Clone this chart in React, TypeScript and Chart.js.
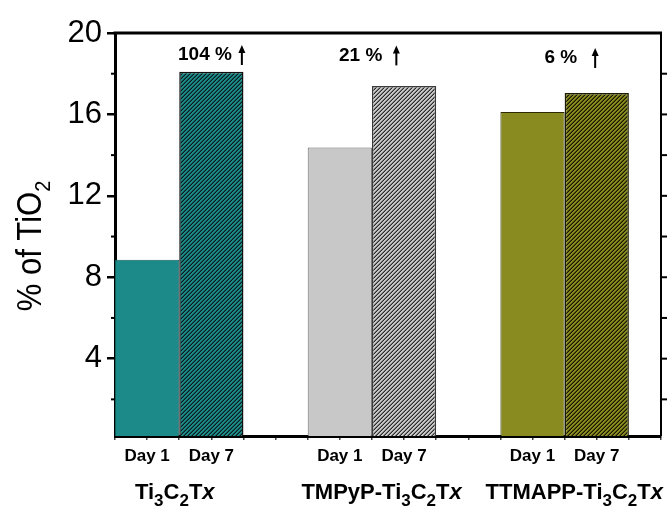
import { useEffect, useRef } from 'react';
import { Chart, registerables } from 'chart.js';

Chart.register(...registerables);

// ---- data ----
const categories = ['Ti3C2Tx', 'TMPyP-Ti3C2Tx', 'TTMAPP-Ti3C2Tx'];
const dayLabels = ['Day 1', 'Day 7'];
const day1Values = [8.86, 14.38, 16.12];
const day7Values = [18.1, 17.39, 17.05];
const increaseLabels = ['104 %', '21 %', '6 %'];
// axis units (x axis runs 0..17, each bar spans 2 units)
const groupCenters = [2, 8, 14];
const groupLabelX = [1.86, 8.3, 14.3];
const increaseLabelX = [2.8, 7.65, 13.88];
const increaseLabelY = [18.92, 18.9, 18.77];
const increaseArrowX = [3.95, 8.76, 14.95];
const yTickValues = [4, 8, 12, 16, 20];
const yMinorTickValues = [2, 6, 10, 14, 18];
const yRightTickValues = [2, 4, 6, 8, 10, 12, 14, 16, 18];

// ---- styles ----
const FONT = '"Liberation Sans", Arial, Helvetica, sans-serif';
const groupColors = ['#1b8a88', '#c8c8c8', '#898a1f'];
const day1Borders = ['#0f5f5d', '#6a6a6a', '#2b2b05'];
const hatchLineColors = ['#0a1a1a', '#2a2a2a', '#161600'];
const day7Borders = ['#111111', '#3a3a3a', '#1a1a00'];

function makeHatch(bg: string, line: string): CanvasPattern | string {
  const c = document.createElement('canvas');
  c.width = 4;
  c.height = 4;
  const g = c.getContext('2d');
  if (!g) return bg;
  g.fillStyle = bg;
  g.fillRect(0, 0, 4, 4);
  g.fillStyle = line;
  for (let x = 0; x < 4; x++) {
    for (let y = 0; y < 4; y++) {
      const k = (x + y) % 4;
      if (k === 3) {
        g.globalAlpha = 1;
        g.fillRect(x, y, 1, 1);
      } else if (k === 2) {
        g.globalAlpha = 0.5;
        g.fillRect(x, y, 1, 1);
      }
    }
  }
  g.globalAlpha = 1;
  return g.createPattern(c, 'repeat') || bg;
}

type Seg = { t: string; sub?: boolean; italic?: boolean };
function parseFormula(s: string): Seg[] {
  const out: Seg[] = [];
  for (let i = 0; i < s.length; i++) {
    const ch = s[i];
    if (/[0-9]/.test(ch)) out.push({ t: ch, sub: true });
    else if (ch === 'x' && i === s.length - 1) out.push({ t: ch, italic: true });
    else {
      const last = out[out.length - 1];
      if (last && !last.sub && !last.italic) last.t += ch;
      else out.push({ t: ch });
    }
  }
  return out;
}

function drawSegs(
  ctx: CanvasRenderingContext2D,
  segs: Seg[],
  cx: number,
  baseline: number,
  mainSize: number,
  subSize: number,
  subDrop: number,
  weight: string
) {
  const fontFor = (s: Seg) =>
    `${s.italic ? 'italic ' : ''}${weight} ${s.sub ? subSize : mainSize}px ${FONT}`;
  let total = 0;
  const widths = segs.map((s) => {
    ctx.font = fontFor(s);
    const w = ctx.measureText(s.t).width;
    total += w;
    return w;
  });
  let x = cx - total / 2;
  ctx.textAlign = 'left';
  ctx.textBaseline = 'alphabetic';
  segs.forEach((s, i) => {
    ctx.font = fontFor(s);
    ctx.fillText(s.t, x, baseline + (s.sub ? subDrop : 0));
    x += widths[i];
  });
}

const decorPlugin = {
  id: 'decor',
  afterDraw(chart: any) {
    const { ctx, chartArea: ca, scales } = chart;
    const xs = scales.x;
    const ys = scales.y;
    ctx.save();
    ctx.strokeStyle = '#000';
    ctx.fillStyle = '#000';

    // top border
    ctx.lineWidth = 3;
    ctx.beginPath();
    ctx.moveTo(ca.left - 1.5, ca.top);
    ctx.lineTo(ca.right + 1, ca.top);
    ctx.stroke();
    // right border
    ctx.lineWidth = 2;
    ctx.beginPath();
    ctx.moveTo(ca.right, ca.top);
    ctx.lineTo(ca.right, ca.bottom);
    ctx.stroke();
    // right ticks
    ctx.lineWidth = 2;
    yRightTickValues.forEach((v) => {
      const py = ys.getPixelForValue(v);
      ctx.beginPath();
      ctx.moveTo(ca.right, py);
      ctx.lineTo(ca.right + 6, py);
      ctx.stroke();
    });
    // left minor ticks
    yMinorTickValues.forEach((v) => {
      const py = ys.getPixelForValue(v);
      ctx.beginPath();
      ctx.moveTo(ca.left - 4, py);
      ctx.lineTo(ca.left, py);
      ctx.stroke();
    });

    // increase annotations
    increaseLabels.forEach((lab, i) => {
      const px = xs.getPixelForValue(increaseLabelX[i]);
      const py = ys.getPixelForValue(increaseLabelY[i]);
      ctx.font = `bold 19px ${FONT}`;
      ctx.textAlign = 'center';
      ctx.textBaseline = 'middle';
      ctx.fillText(lab, px, py);
      const ax = xs.getPixelForValue(increaseArrowX[i]);
      const top = py - 10;
      const bottom = py + 10;
      ctx.lineWidth = 2;
      ctx.beginPath();
      ctx.moveTo(ax, bottom);
      ctx.lineTo(ax, top + 6);
      ctx.stroke();
      ctx.beginPath();
      ctx.moveTo(ax, top);
      ctx.lineTo(ax - 3.5, top + 8);
      ctx.lineTo(ax + 3.5, top + 8);
      ctx.closePath();
      ctx.fill();
    });

    // group labels
    categories.forEach((c, i) => {
      const px = xs.getPixelForValue(groupLabelX[i]);
      drawSegs(ctx, parseFormula(c), px, 499, 22, 17, 7, 'bold');
    });

    // y title
    ctx.save();
    ctx.translate(41, 246);
    ctx.rotate(-Math.PI / 2);
    ctx.scale(1, 1.12);
    drawSegs(
      ctx,
      [{ t: '% of TiO' }, { t: '2', sub: true }],
      0,
      0,
      31,
      20,
      8,
      'normal'
    );
    ctx.restore();

    ctx.restore();
  },
};

export default function App() {
  const ref = useRef<HTMLCanvasElement>(null);
  useEffect(() => {
    if (!ref.current) return;
    const hatches = groupColors.map((c, i) => makeHatch(c, hatchLineColors[i]));
    const dayLabelFor = (v: number) => {
      for (const c of groupCenters) {
        if (Math.abs(v - (c - 1)) < 1e-6) return dayLabels[0];
        if (Math.abs(v - (c + 1)) < 1e-6) return dayLabels[1];
      }
      return '';
    };
    const chart = new Chart(ref.current, {
      type: 'bar',
      data: {
        datasets: [
          {
            label: dayLabels[0],
            data: groupCenters.map((c, i) => ({ x: c - 1, y: day1Values[i] })),
            backgroundColor: groupColors,
            borderColor: day1Borders,
            borderWidth: 1,
            grouped: false,
            barPercentage: 1,
            categoryPercentage: 2,
          },
          {
            label: dayLabels[1],
            data: groupCenters.map((c, i) => ({ x: c + 1, y: day7Values[i] })),
            backgroundColor: hatches as any,
            borderColor: day7Borders,
            borderWidth: 1.5,
            grouped: false,
            barPercentage: 1,
            categoryPercentage: 2,
          },
        ] as any,
      },
      options: {
        responsive: false,
        animation: false,
        devicePixelRatio: 1,
        layout: { padding: { top: 33, right: 3, left: 0, bottom: 0 } },
        plugins: {
          legend: { display: false },
          tooltip: { enabled: false },
        },
        scales: {
          x: {
            type: 'linear',
            min: 0,
            max: 17,
            offset: false,
            ticks: {
              stepSize: 1,
              autoSkip: false,
              maxRotation: 0,
              minRotation: 0,
              padding: 6,
              color: '#000',
              font: { family: FONT, size: 17, weight: 'bold' },
              callback: (v: any) => dayLabelFor(Number(v)),
            },
            grid: {
              drawOnChartArea: false,
              offset: false,
              tickLength: 4,
              lineWidth: 1.5,
              color: '#444',
            },
            border: { display: true, color: '#000', width: 3 },
            afterFit: (s: any) => {
              s.height = 76;
            },
          },
          y: {
            type: 'linear',
            min: 0.2,
            max: 20,
            afterBuildTicks: (s: any) => {
              s.ticks = yTickValues.map((v) => ({ value: v }));
            },
            ticks: {
              padding: 5,
              color: '#000',
              font: { family: FONT, size: 31 },
            },
            grid: {
              drawOnChartArea: false,
              tickLength: 8,
              lineWidth: 2.5,
              color: '#000',
            },
            border: { display: true, color: '#000', width: 3 },
            afterFit: (s: any) => {
              s.width = 115;
            },
          },
        },
      } as any,
      plugins: [decorPlugin],
    });
    return () => chart.destroy();
  }, []);
  return (
    <div style={{ position: 'absolute', left: 0, top: 0, width: 667, height: 512 }}>
      <canvas ref={ref} width={667} height={512} style={{ display: 'block', width: 667, height: 512 }} />
    </div>
  );
}
